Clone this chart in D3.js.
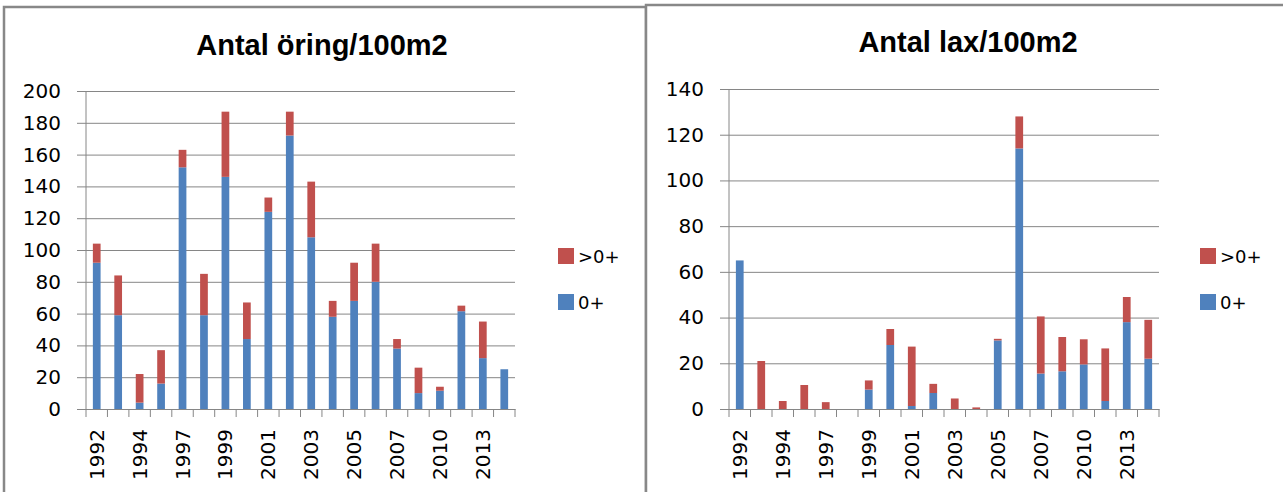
<!DOCTYPE html>
<html>
<head>
<meta charset="utf-8">
<script src="https://cdn.jsdelivr.net/npm/d3@7"></script>
<style>
  body { margin: 0; background: #fff; }
  svg { display: block; }
  .tick text { font-family: "DejaVu Sans", sans-serif; fill: #000; }
</style>
</head>
<body>
<svg id="chart" width="1283" height="492"></svg>
<script>
// categories (every other label is shown on the axis)
const years = ["1992","1993","1994","1995","1997","1998","1999","2000","2001","2002",
               "2003","2004","2005","2006","2007","2008","2010","2011","2013","2014"];

// Antal öring/100m2
const oringYngel = [92, 59, 4, 16, 152, 59, 146, 44, 124, 172, 108, 58, 68, 80, 38, 10, 11.5, 61.5, 32, 25];
const oringAldre = [12, 25, 18, 21, 11, 26, 41, 23, 9, 15, 35, 10, 24, 24, 6, 16, 2.5, 3.5, 23, 0];

// Antal lax/100m2
const laxYngel = [65, 0, 0, 0, 0, 0, 8.5, 28, 1.3, 7, 0, 0, 30, 114, 15.5, 16.5, 19.5, 3.5, 38, 22];
const laxAldre = [0, 21, 3.5, 10.5, 3, 0, 4, 7, 26, 4, 4.6, 0.7, 0.7, 14, 25, 15, 11, 23, 11, 17];

const seriesNames = ["0+", ">0+"];
const colors = { "0+": "#4F81BD", ">0+": "#C0504D" };

const svg = d3.select("#chart");

function drawPanel(cfg) {
  const g = svg.append("g");

  // panel frame
  g.append("rect")
    .attr("x", cfg.frame[0]).attr("y", cfg.frame[1])
    .attr("width", cfg.frame[2]).attr("height", 520)
    .attr("fill", "#fff")
    .attr("stroke", "#888").attr("stroke-width", 2.5);

  g.append("text")
    .attr("x", cfg.titleX).attr("y", cfg.titleY)
    .attr("text-anchor", "middle")
    .style("font-family", "'Liberation Sans', Arial, sans-serif")
    .style("font-weight", "bold")
    .style("font-size", "29px")
    .text(cfg.title);

  const rows = years.map((y, i) => ({ year: y, "0+": cfg.yngel[i], ">0+": cfg.aldre[i] }));
  const stacked = d3.stack().keys(seriesNames)(rows);

  const x = d3.scaleBand()
    .domain(years)
    .range([cfg.left, cfg.right])
    .paddingInner(0.64)
    .paddingOuter(0.32);

  const y = d3.scaleLinear()
    .domain([0, cfg.max])
    .range([409, cfg.top]);

  // y axis with gridlines
  const yAxis = g.append("g")
    .attr("transform", `translate(${cfg.left},0)`)
    .call(d3.axisLeft(y).tickValues(d3.range(0, cfg.max + 1, 20))
      .tickSize(-(cfg.right - cfg.left)).tickPadding(0));
  yAxis.select(".domain").remove();
  yAxis.selectAll(".tick line")
    .attr("x1", -9)
    .attr("stroke", "#868686");
  yAxis.selectAll(".tick text")
    .attr("x", -25)
    .style("font-size", "20px");

  g.append("line")
    .attr("x1", cfg.left).attr("x2", cfg.left)
    .attr("y1", cfg.top).attr("y2", 409)
    .attr("stroke", "#868686");

  // bars
  g.append("g").selectAll("g")
    .data(stacked)
    .join("g")
    .attr("fill", d => colors[d.key])
    .selectAll("rect")
    .data(d => d)
    .join("rect")
    .attr("x", d => x(d.data.year))
    .attr("width", x.bandwidth())
    .attr("y", d => y(d[1]))
    .attr("height", d => y(d[0]) - y(d[1]));

  // x axis
  const xAxis = g.append("g")
    .attr("transform", "translate(0,409)")
    .call(d3.axisBottom(x).tickSize(0)
      .tickValues(years.filter((d, i) => i % 2 === 0)));
  xAxis.select(".domain").attr("stroke", "#868686");
  xAxis.selectAll(".tick text")
    .attr("transform", "rotate(-90)")
    .attr("text-anchor", "end")
    .attr("x", -20)
    .attr("y", 0)
    .attr("dy", "0.35em")
    .style("font-size", "20px");

  // category separator ticks
  const step = x.step();
  g.append("g").selectAll("line")
    .data(d3.range(years.length + 1))
    .join("line")
    .attr("x1", i => cfg.left + i * step)
    .attr("x2", i => cfg.left + i * step)
    .attr("y1", 409).attr("y2", 417)
    .attr("stroke", "#868686");

  // legend
  const legendItems = [">0+", "0+"];
  const lg = g.append("g");
  legendItems.forEach((name, i) => {
    lg.append("rect")
      .attr("x", cfg.legendX).attr("y", 248 + i * 46)
      .attr("width", 16).attr("height", 16)
      .attr("fill", colors[name]);
    lg.append("text")
      .attr("x", cfg.legendX + 20).attr("y", 263 + i * 46)
      .style("font-family", "'DejaVu Sans', sans-serif")
      .style("font-size", "18px")
      .text(name);
  });
}

drawPanel({
  title: "Antal öring/100m2", frame: [4, 7, 642], titleX: 322, titleY: 55,
  left: 86, right: 515, top: 91, max: 200,
  yngel: oringYngel, aldre: oringAldre, legendX: 558
});

drawPanel({
  title: "Antal lax/100m2", frame: [646, 5, 660], titleX: 968, titleY: 52,
  left: 729, right: 1159, top: 89, max: 140,
  yngel: laxYngel, aldre: laxAldre, legendX: 1200
});
</script>
</body>
</html>
